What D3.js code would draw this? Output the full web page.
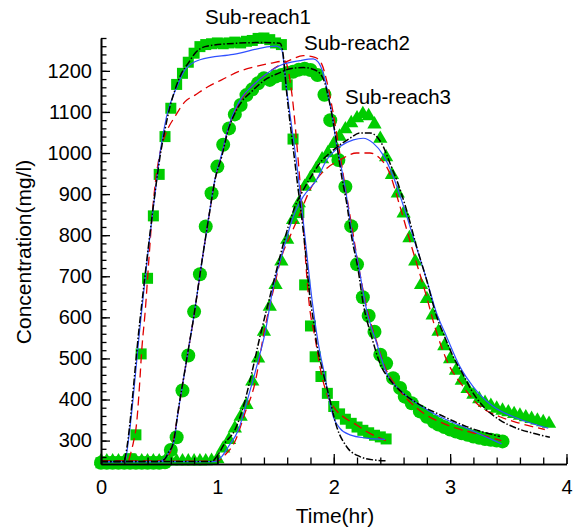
<!DOCTYPE html>
<html><head><meta charset="utf-8">
<script src="https://cdn.jsdelivr.net/npm/d3@7"></script>
<style>body{margin:0;background:#fff}svg text{font-family:"Liberation Sans",Arial,sans-serif;fill:#000}</style>
</head><body><svg id="c" width="582" height="532"></svg>
<script>
// ---------- DATA ----------
const xTicks = [0, 1, 2, 3, 4];
const yTicks = [300, 400, 500, 600, 700, 800, 900, 1000, 1100, 1200];
const labels = ["Sub-reach1", "Sub-reach2", "Sub-reach3"];

// observed (green markers) [time hr, concentration mg/l]
const obs1 = [[0,246],[0.05,246],[0.1,246],[0.15,246],[0.2,247],[0.25,256],[0.3,314],[0.345,511],[0.4,695],[0.45,847],[0.5,948],[0.55,1040],[0.6,1109],[0.65,1167],[0.7,1194],[0.75,1221],[0.8,1243],[0.85,1259],[0.9,1264],[0.95,1266],[1.0,1268],[1.05,1266],[1.1,1268],[1.15,1270],[1.2,1268],[1.25,1272],[1.3,1274],[1.35,1279],[1.4,1280],[1.45,1276],[1.5,1268],[1.55,1264],[1.6,1166],[1.65,1034],[1.7,855],[1.75,679],[1.8,579],[1.84,504],[1.89,456],[1.945,415],[2.0,383],[2.05,365],[2.1,352],[2.15,342],[2.2,333],[2.25,325],[2.3,319],[2.35,313],[2.4,309],[2.45,304]];
const obs2 = [[0,246],[0.05,246],[0.1,246],[0.15,246],[0.2,246],[0.25,246],[0.3,246],[0.35,246],[0.4,246],[0.45,246],[0.5,246],[0.55,247],[0.6,277],[0.65,308],[0.7,422],[0.75,507],[0.8,614],[0.85,705],[0.9,821],[0.95,902],[1.0,967],[1.05,1020],[1.1,1060],[1.15,1094],[1.2,1117],[1.25,1141],[1.3,1155],[1.35,1170],[1.4,1182],[1.45,1178],[1.5,1186],[1.55,1190],[1.6,1195],[1.65,1198],[1.7,1203],[1.75,1205],[1.8,1202],[1.86,1190],[1.92,1142],[1.97,1080],[2.04,983],[2.1,918],[2.15,822],[2.2,729],[2.25,649],[2.3,604],[2.35,565],[2.4,509],[2.45,488],[2.51,452],[2.57,428],[2.61,407],[2.67,391],[2.74,371],[2.8,358],[2.86,346],[2.9,339],[2.95,333],[3.0,327],[3.05,322],[3.1,318],[3.15,314],[3.2,310],[3.25,307],[3.3,304],[3.35,302],[3.4,300],[3.45,298]];
const obs3 = [[0,250],[0.05,250],[0.1,250],[0.15,250],[0.2,250],[0.25,250],[0.3,250],[0.35,250],[0.4,250],[0.45,250],[0.5,250],[0.55,250],[0.6,250],[0.65,250],[0.7,250],[0.75,250],[0.8,250],[0.85,250],[0.9,250],[0.95,251],[1.0,255],[1.05,281],[1.1,302],[1.15,330],[1.2,358],[1.25,387],[1.3,444],[1.35,500],[1.4,565],[1.45,626],[1.5,679],[1.55,736],[1.6,789],[1.65,837],[1.7,878],[1.75,918],[1.8,939],[1.85,962],[1.9,985],[1.95,1000],[2.0,1022],[2.05,1040],[2.1,1058],[2.15,1073],[2.2,1085],[2.25,1095],[2.3,1090],[2.35,1070],[2.4,1035],[2.45,990],[2.5,947],[2.55,902],[2.6,853],[2.65,793],[2.7,736],[2.75,679],[2.8,645],[2.85,605],[2.9,565],[2.95,530],[3.0,498],[3.05,470],[3.1,446],[3.15,426],[3.2,412],[3.25,401],[3.3,392],[3.35,385],[3.4,378],[3.45,373],[3.5,369],[3.55,365],[3.6,361],[3.65,357],[3.7,353],[3.75,349],[3.8,345],[3.85,341]];

// model curves
const black1 = [[0,249],[0.2,249],[0.21,262],[0.335,594],[0.404,764],[0.479,935],[0.507,991],[0.55,1057],[0.593,1113],[0.636,1154],[0.693,1195],[0.75,1219],[0.808,1243],[0.893,1259],[1.094,1266],[1.381,1269],[1.538,1267],[1.56,1250],[1.595,1149],[1.681,943],[1.753,772],[1.795,650],[1.824,594],[1.853,537],[1.91,464],[1.967,399],[2.025,334],[2.111,285],[2.225,261],[2.339,253],[2.454,251]];
const blue1 = [[0,249],[0.2,249],[0.215,260],[0.24,310],[0.34,590],[0.406,764],[0.479,935],[0.507,1000],[0.564,1090],[0.65,1160],[0.722,1203],[0.85,1227],[1.137,1240],[1.509,1260],[1.552,1252],[1.595,1155],[1.695,943],[1.753,795],[1.81,650],[1.867,537],[1.924,456],[1.967,391],[1.996,358],[2.053,330],[2.139,314],[2.282,306],[2.44,303]];
const red1 = [[0,250],[0.232,250],[0.258,272],[0.277,294],[0.306,342],[0.33,430],[0.35,520],[0.38,615],[0.41,735],[0.441,853],[0.47,935],[0.507,1000],[0.564,1052],[0.636,1089],[0.722,1125],[0.808,1141],[0.922,1162],[1.037,1178],[1.18,1198],[1.323,1210],[1.466,1219],[1.581,1224],[1.61,1200],[1.638,1149],[1.71,930],[1.795,618],[1.838,553],[1.881,480],[1.939,415],[1.996,383],[2.082,358],[2.197,338],[2.282,322],[2.397,306],[2.448,300]];
const black2 = [[0,249],[0.5,249],[0.55,256],[0.578,270],[0.621,294],[0.664,375],[0.707,448],[0.75,521],[0.793,594],[0.865,732],[0.936,861],[0.979,934],[1.037,991],[1.094,1057],[1.151,1097],[1.209,1125],[1.295,1150],[1.409,1178],[1.523,1194],[1.638,1206],[1.74,1208],[1.81,1205],[1.881,1194],[1.924,1170],[1.953,1137],[1.982,1097],[2.025,1024],[2.068,943],[2.111,878],[2.153,797],[2.21,715],[2.253,634],[2.325,553],[2.397,488],[2.483,448],[2.597,415],[2.741,387],[2.912,363],[3.141,334],[3.428,310]];
const blue2 = [[0,249],[0.5,249],[0.55,257],[0.58,270],[0.625,296],[0.664,372],[0.707,446],[0.75,520],[0.793,594],[0.865,732],[0.936,863],[0.979,936],[1.037,997],[1.094,1062],[1.151,1105],[1.209,1135],[1.295,1162],[1.409,1190],[1.538,1213],[1.71,1225],[1.824,1229],[1.867,1221],[1.91,1193],[1.939,1160],[1.982,1097],[2.025,1020],[2.068,960],[2.111,893],[2.153,812],[2.21,730],[2.282,618],[2.369,537],[2.454,464],[2.569,423],[2.712,391],[2.912,358],[3.141,330],[3.442,292]];
const red2 = [[0,250],[0.5,250],[0.55,255],[0.6,275],[0.664,370],[0.707,446],[0.75,520],[0.793,594],[0.865,732],[0.936,861],[0.979,934],[1.037,995],[1.094,1060],[1.151,1100],[1.209,1132],[1.295,1162],[1.409,1190],[1.523,1212],[1.638,1228],[1.738,1237],[1.838,1233],[1.896,1217],[1.94,1175],[1.99,1105],[2.04,1020],[2.1,915],[2.15,830],[2.21,730],[2.282,625],[2.369,540],[2.454,470],[2.55,428],[2.769,367],[2.941,342],[3.313,310],[3.44,300]];
const black3 = [[0,249],[0.95,249],[0.994,261],[1.065,294],[1.151,326],[1.223,383],[1.295,464],[1.366,553],[1.466,667],[1.538,748],[1.609,821],[1.667,870],[1.738,910],[1.824,951],[1.881,976],[1.967,1000],[2.053,1020],[2.139,1036],[2.225,1049],[2.311,1049],[2.369,1040],[2.425,1016],[2.483,975],[2.54,935],[2.626,861],[2.712,772],[2.798,691],[2.884,602],[2.941,561],[3.027,504],[3.113,460],[3.199,415],[3.285,383],[3.428,350],[3.571,330],[3.714,318],[3.857,308]];
const blue3 = [[0,249],[0.98,249],[1.037,261],[1.094,285],[1.18,326],[1.266,407],[1.352,496],[1.409,561],[1.481,675],[1.566,764],[1.652,845],[1.738,894],[1.853,935],[1.939,983],[2.053,1016],[2.168,1032],[2.253,1036],[2.339,1024],[2.425,995],[2.511,943],[2.6,870],[2.7,780],[2.8,690],[2.884,610],[2.97,553],[3.084,480],[3.199,431],[3.371,383],[3.571,355],[3.843,330]];
const red3 = [[0,250],[1.0,250],[1.065,265],[1.151,298],[1.237,367],[1.323,440],[1.409,575],[1.48,665],[1.552,748],[1.624,797],[1.71,853],[1.795,910],[1.91,955],[2.053,983],[2.197,1000],[2.311,1000],[2.397,987],[2.468,959],[2.569,870],[2.669,772],[2.798,650],[2.869,577],[2.97,496],[3.113,431],[3.227,391],[3.428,358],[3.6,342],[3.814,327]];

// ---------- CHART ----------
const svg = d3.select("#c");
const x = d3.scaleLinear().domain([0, 4]).range([101, 566.5]);
const y = d3.scaleLinear().domain([243, 1280]).range([464, 38]);
const green = "#00cc00";

// markers
const g = svg.append("g");
g.selectAll("rect.sq").data(obs1).join("rect")
  .attr("x", d => x(d[0]) - 5.5).attr("y", d => y(d[1]) - 5.5)
  .attr("width", 11).attr("height", 11).attr("fill", green);
g.selectAll("circle.ci").data(obs2).join("circle")
  .attr("cx", d => x(d[0])).attr("cy", d => y(d[1])).attr("r", 7).attr("fill", green);
const tri = d3.symbol().type(d3.symbolTriangle).size(88);
g.selectAll("path.tr").data(obs3).join("path")
  .attr("d", tri).attr("transform", d => `translate(${x(d[0])},${y(d[1])})`).attr("fill", green);

// lines
const line = d3.line().x(d => x(d[0])).y(d => y(d[1])).curve(d3.curveMonotoneX);
const styles = {
  black: {stroke: "#000", w: 1.5, dash: "7,2,1.5,2"},
  blue: {stroke: "#3050ff", w: 1.2, dash: null},
  red: {stroke: "#e00000", w: 1.3, dash: "9,5"}
};
[[red1,"red"],[red2,"red"],[red3,"red"],[blue1,"blue"],[blue2,"blue"],[blue3,"blue"],[black1,"black"],[black2,"black"],[black3,"black"]]
.forEach(([d, k]) => {
  const s = styles[k];
  svg.append("path").datum(d).attr("d", line).attr("fill", "none")
    .attr("stroke", s.stroke).attr("stroke-width", s.w)
    .attr("stroke-dasharray", s.dash);
});

// axes
const xMinor = d3.range(0, 4.001, 0.2);
const yMinor = d3.range(260, 1281, 20);
const ax = svg.append("g").attr("transform", "translate(0,464)");
ax.call(d3.axisBottom(x).tickValues(xMinor).tickSize(-6.5).tickSizeOuter(0).tickFormat(""));
ax.append("g").call(d3.axisBottom(x).tickValues(xTicks).tickSize(-10).tickSizeOuter(0).tickPadding(16).tickFormat(d3.format("d")));
const ay = svg.append("g").attr("transform", "translate(101,0)");
ay.call(d3.axisLeft(y).tickValues(yMinor).tickSize(-5.5).tickSizeOuter(0).tickFormat(""));
ay.append("g").call(d3.axisLeft(y).tickValues(yTicks).tickSize(-9).tickSizeOuter(0).tickPadding(9).tickFormat(d3.format("d")));
svg.selectAll(".domain").attr("stroke", "#000").attr("stroke-width", 1.6);
svg.selectAll(".tick line").attr("stroke", "#000").attr("stroke-width", 1.3);
svg.selectAll(".tick text").attr("font-size", 20).attr("font-family", '"Liberation Sans",Arial,sans-serif');

// titles
svg.append("text").attr("x", 335).attr("y", 523).attr("text-anchor", "middle").attr("font-size", 21).text("Time(hr)");
svg.append("text").attr("transform", "translate(31,252) rotate(-90)").attr("text-anchor", "middle").attr("font-size", 21).text("Concentration(mg/l)");

const labPos = [[205, 23.5], [304, 50], [345, 104]];
labels.forEach((t, i) => svg.append("text").attr("x", labPos[i][0]).attr("y", labPos[i][1]).attr("font-size", 20.5).text(t));
</script></body></html>
